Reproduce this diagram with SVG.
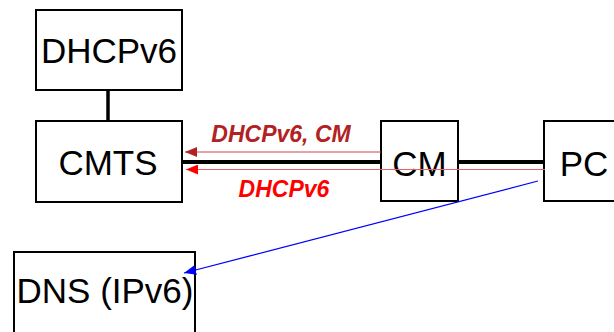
<svg xmlns="http://www.w3.org/2000/svg" width="614" height="332" viewBox="0 0 614 332">
<style>
.box{fill:#fff;stroke:#000;stroke-width:2}
.lbl{font-family:"Liberation Sans",Arial,sans-serif;font-size:35px;fill:#000;text-anchor:middle}
.msg{font-family:"Liberation Sans",Arial,sans-serif;font-size:23px;font-weight:bold;font-style:italic;text-anchor:middle}
.thick{stroke:#000;stroke-width:4;fill:none}
</style>
<defs>
<marker id="ahDark" markerWidth="12" markerHeight="10" refX="12" refY="5" orient="auto" markerUnits="userSpaceOnUse"><path d="M0,0 L12,5 L0,10 Z" fill="#B22222"/></marker>
<marker id="ahRed" markerWidth="12" markerHeight="10" refX="12" refY="5" orient="auto" markerUnits="userSpaceOnUse"><path d="M0,0 L12,5 L0,10 Z" fill="#FF0000"/></marker>
<marker id="ahBlue" markerWidth="12" markerHeight="10" refX="12" refY="5" orient="auto" markerUnits="userSpaceOnUse"><path d="M0,0 L12,5 L0,10 Z" fill="#0000FF"/></marker>
</defs>
<g id="dhcp">
<rect class="box" x="36" y="10" width="146" height="80"/>
<text class="lbl" x="109" y="63">DHCPv6</text>
</g>
<g id="cmts">
<rect class="box" x="36" y="121" width="146" height="81"/>
<text class="lbl" x="108" y="175">CMTS</text>
</g>
<g id="cm">
<rect class="box" x="381" y="121" width="77" height="80"/>
<text class="lbl" x="419.5" y="175.5">CM</text>
</g>
<g id="pc">
<rect class="box" x="544" y="121" width="80" height="80"/>
<text class="lbl" x="584" y="175.5">PC</text>
</g>
<g id="dns">
<rect class="box" x="14" y="252" width="181" height="90"/>
<text class="lbl" x="105" y="303">DNS (IPv6)</text>
</g>
<g id="connectors">
<line class="thick" x1="108" y1="90" x2="108" y2="121" style="stroke-width:3.5"/>
<line class="thick" x1="182" y1="162" x2="381" y2="162"/>
<line class="thick" x1="458" y1="162" x2="545" y2="162"/>
<line x1="381" y1="152" x2="185" y2="152" stroke="#C84848" stroke-width="1" marker-end="url(#ahDark)"/>
<line x1="545" y1="169.5" x2="186" y2="169.5" stroke="#F06060" stroke-width="1" marker-end="url(#ahRed)"/>
<line x1="538" y1="181" x2="184" y2="273" stroke="#0000FF" stroke-width="1.2" marker-end="url(#ahBlue)"/>
<text class="msg" x="281" y="141.5" fill="#B22222">DHCPv6, CM</text>
<text class="msg" x="284" y="197" fill="#FF0000">DHCPv6</text>
</g>
</svg>
